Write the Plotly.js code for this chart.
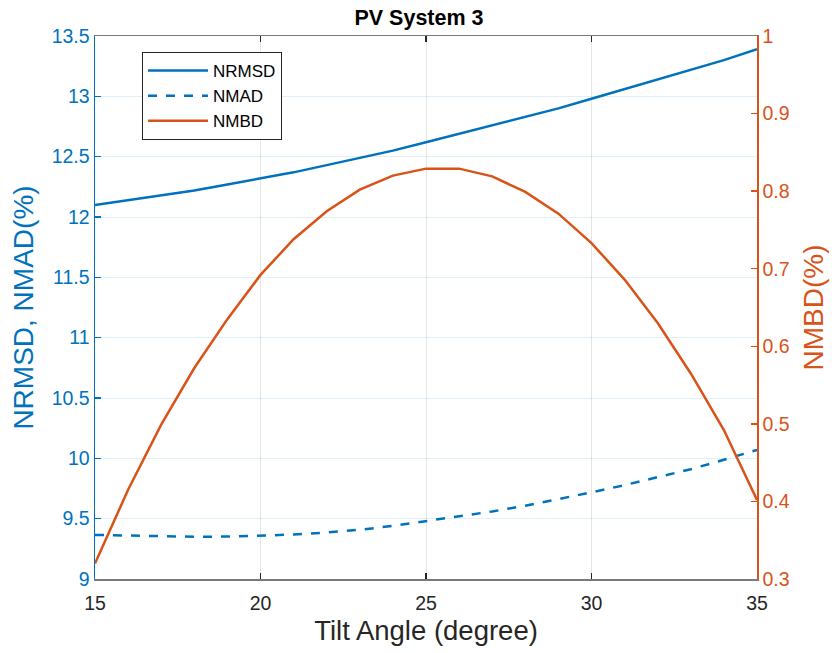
<!DOCTYPE html>
<html>
<head>
<meta charset="utf-8">
<script src="https://cdn.plot.ly/plotly-3.0.1.min.js"></script>
<style>html,body{margin:0;padding:0;background:#fff;}#chart{width:838px;height:653px;}</style>
</head>
<body>
<div id="chart"></div>
<script>
const tilt = [15,16,17,18,19,20,21,22,23,24,25,26,27,28,29,30,31,32,33,34,35];
const nrmsd = [12.10,12.14,12.18,12.22,12.27,12.32,12.37,12.43,12.49,12.55,12.62,12.69,12.76,12.83,12.90,12.98,13.06,13.14,13.22,13.30,13.39];
const nmad = [9.365,9.358,9.353,9.350,9.352,9.358,9.368,9.385,9.408,9.440,9.478,9.518,9.560,9.607,9.660,9.718,9.778,9.842,9.910,9.988,10.07];
const nmbd = [0.320,0.415,0.499,0.572,0.635,0.692,0.738,0.774,0.802,0.820,0.829,0.829,0.819,0.799,0.771,0.733,0.686,0.630,0.565,0.492,0.402];
const leftTicks = [9,9.5,10,10.5,11,11.5,12,12.5,13,13.5];
const rightTicks = [0.3,0.4,0.5,0.6,0.7,0.8,0.9,1];
const xTicks = [15,20,25,30,35];

const BLUE = '#0072BD', ORANGE = '#D95319';
const FONT = 'Liberation Sans, Arial, sans-serif';

const traces = [
  {x: tilt, y: nrmsd, name: 'NRMSD', mode: 'lines', line: {color: BLUE, width: 2.5}, yaxis: 'y'},
  {x: tilt, y: nmad, name: 'NMAD', mode: 'lines', line: {color: BLUE, width: 2.5, dash: 'dash'}, yaxis: 'y'},
  {x: tilt, y: nmbd, name: 'NMBD', mode: 'lines', line: {color: ORANGE, width: 2.5}, yaxis: 'y2'}
];

const layout = {
  width: 838, height: 653,
  margin: {l: 95, r: 81, t: 36, b: 74},
  paper_bgcolor: '#fff', plot_bgcolor: '#fff',
  font: {family: FONT, size: 19, color: '#262626'},
  title: {text: '<b>PV System 3</b>', x: 0.5, xanchor: 'center', y: 0.973, yanchor: 'middle', font: {size: 21.5, color: '#000', family: FONT}},
  showlegend: true,
  legend: {x: 0.071, y: 0.9705, xanchor: 'left', yanchor: 'top', bgcolor: '#fff', bordercolor: '#262626', borderwidth: 1, font: {size: 17, color: '#000'}, itemwidth: 60, tracegroupgap: 0},
  xaxis: {
    range: [15, 35], tickvals: xTicks, ticktext: xTicks.map(String),
    ticks: 'inside', ticklen: 6, tickcolor: '#262626', tickwidth: 1.5,
    showline: true, linecolor: '#7a7a7a', linewidth: 1.5, mirror: 'ticks',
    showgrid: true, gridcolor: 'rgba(38,38,38,0.12)', gridwidth: 1, zeroline: false,
    tickfont: {size: 19.5, color: '#262626'}, ticklabelstandoff: 6,
    title: {text: 'Tilt Angle (degree)', font: {size: 27.5, color: '#262626'}, standoff: 8}
  },
  yaxis: {
    range: [9, 13.5], tickvals: leftTicks, ticktext: leftTicks.map(String),
    ticks: 'inside', ticklen: 6, tickcolor: BLUE, tickwidth: 1.5,
    showline: true, linecolor: BLUE, linewidth: 1.5,
    showgrid: true, gridcolor: 'rgba(0,114,189,0.12)', gridwidth: 1, zeroline: false,
    tickfont: {size: 19.5, color: BLUE},
    title: {text: 'NRMSD, NMAD(%)', font: {size: 28, color: BLUE}, standoff: 10}
  },
  yaxis2: {
    range: [0.3, 1], tickvals: rightTicks, ticktext: rightTicks.map(String),
    overlaying: 'y', side: 'right',
    ticks: 'inside', ticklen: 6, tickcolor: ORANGE, tickwidth: 1.5,
    showline: true, linecolor: ORANGE, linewidth: 1.5,
    showgrid: false, zeroline: false,
    tickfont: {size: 19.5, color: ORANGE},
    title: {text: 'NMBD(%)', font: {size: 28, color: ORANGE}, standoff: 14}
  }
};

Plotly.newPlot('chart', traces, layout, {displayModeBar: false, staticPlot: true});
</script>
</body>
</html>
